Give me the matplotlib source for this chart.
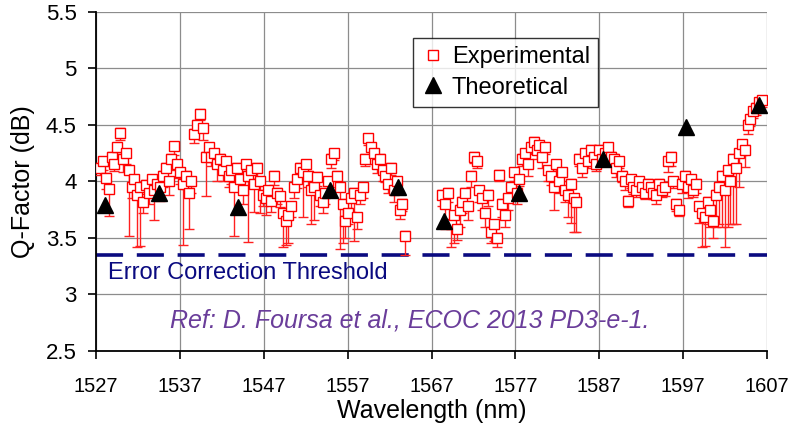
import numpy as np
import matplotlib
matplotlib.use("Agg")
import matplotlib.pyplot as plt
from matplotlib.lines import Line2D

plt.rcParams['font.family'] = ['Liberation Sans', 'DejaVu Sans']

# Channel grid of the two measured bands (nm)
band1_start, band2_start, channel_step = 1527.5, 1568.3, 0.34

# Measured Q-factor per channel (dB), band 1
q_band1 = [
    4.12, 4.18, 4.03, 3.93,
    4.22, 4.15, 4.30, 4.43, 4.20,
    4.25, 4.10, 3.95, 4.02, 3.88, 3.95, 3.82,
    3.97, 3.90, 4.02, 3.92, 3.98, 3.95,
    4.05, 4.12, 4.00, 4.20, 4.31, 4.15,
    4.08, 3.98, 4.05, 3.90, 4.00,
    4.42, 4.50, 4.60, 4.47, 4.22,
    4.30, 4.22, 4.25, 4.15, 4.20, 4.10, 4.18,
    4.05, 4.10, 3.95, 4.12, 4.02, 3.92,
    4.15, 4.05, 4.10, 3.98, 4.12, 4.00,
    3.88, 3.85, 3.92, 3.83, 4.05, 3.90, 3.87,
    3.72, 3.65, 3.70, 3.78,
    3.95, 4.02, 4.12, 4.08, 4.15, 4.05, 3.92,
    3.95, 4.04, 3.88, 3.82, 3.90, 4.00,
    4.20, 4.25, 4.05, 3.95, 3.80,
    3.65, 3.72, 3.85, 3.90, 3.68, 3.88, 3.95,
    4.20, 4.38, 4.30, 4.25, 4.15, 4.20, 4.10,
    4.05, 3.98, 4.12, 3.92, 4.00,
    3.75, 3.80,
    3.52,
]
# Lower error (dB), band 1
err_band1 = [
    0.06, 0.08, 0.10, 0.24,
    0.08, 0.06, 0.10, 0.06, 0.12,
    0.10, 0.58, 0.10, 0.08, 0.46, 0.52, 0.10,
    0.08, 0.10, 0.06, 0.26, 0.10, 0.12,
    0.10, 0.08, 0.12, 0.10, 0.08, 0.12,
    0.10, 0.54, 0.12, 0.32, 0.10,
    0.08, 0.06, 0.06, 0.10, 0.35,
    0.10, 0.08, 0.06, 0.15, 0.06, 0.10, 0.08,
    0.10, 0.12, 0.43, 0.08, 0.10, 0.12,
    0.10, 0.59, 0.10, 0.25, 0.10, 0.28,
    0.10, 0.15, 0.08, 0.10, 0.08, 0.10, 0.10,
    0.30, 0.21, 0.25, 0.10,
    0.10, 0.08, 0.10, 0.40, 0.08, 0.10, 0.30,
    0.29, 0.08, 0.10, 0.10, 0.10, 0.08,
    0.08, 0.06, 0.10, 0.55, 0.35,
    0.15, 0.10, 0.12, 0.43, 0.10, 0.08, 0.10,
    0.06, 0.06, 0.08, 0.10, 0.08, 0.06, 0.10,
    0.06, 0.08, 0.06, 0.10, 0.08,
    0.08, 0.06,
    0.17,
]

# Measured Q-factor per channel (dB), band 2
q_band2 = [
    3.88, 3.80, 3.90,
    3.62, 3.70, 3.58, 3.75,
    3.82, 3.90, 3.78, 4.05, 4.22,
    4.18, 3.92, 3.85, 3.72, 3.88,
    3.55, 3.62, 3.50,
    4.06, 3.80, 3.70, 3.85,
    3.95, 4.08, 3.90, 4.02,
    4.20, 4.25, 4.15, 4.30, 4.35, 4.28, 4.32, 4.22, 4.30,
    4.10, 4.05, 3.95, 4.15, 4.00, 4.08,
    3.92, 3.88, 3.98, 3.85, 3.82,
    4.20, 4.12, 4.25, 4.18, 4.28, 4.22, 4.15, 4.28, 4.20, 4.25, 4.30, 4.22, 4.20, 4.12, 4.18,
    4.05, 4.00, 3.83, 4.02, 3.95, 3.92, 4.00, 3.95, 3.90, 3.98,
    3.95, 3.90, 3.88, 3.98, 3.92, 3.95,
    4.18, 4.22, 4.00,
    3.80, 3.75, 3.98,
    4.05, 3.95, 4.02, 3.92, 3.98,
    3.78, 3.72, 3.68, 3.82, 3.75,
    3.65, 3.88, 3.95, 4.05, 3.92, 4.10, 4.00,
    4.20, 4.12, 4.25, 4.33, 4.28,
    4.50, 4.55, 4.62, 4.65, 4.70, 4.72,
]
# Lower error (dB), band 2
err_band2 = [
    0.10, 0.22, 0.08,
    0.20, 0.25, 0.10, 0.15,
    0.10, 0.15, 0.12, 0.10, 0.06,
    0.06, 0.10, 0.10, 0.12, 0.10,
    0.10, 0.15, 0.08,
    0.06, 0.12, 0.10, 0.10,
    0.10, 0.08, 0.10, 0.06,
    0.06, 0.08, 0.10, 0.06, 0.06, 0.08, 0.06, 0.10, 0.06,
    0.10, 0.08, 0.20, 0.06, 0.10, 0.08,
    0.10, 0.20, 0.35, 0.30, 0.27,
    0.06, 0.08, 0.06, 0.06, 0.08, 0.06, 0.06, 0.10, 0.06, 0.06, 0.06, 0.08, 0.06, 0.08, 0.06,
    0.06, 0.08, 0.06, 0.08, 0.06, 0.06, 0.08, 0.06, 0.06, 0.08,
    0.06, 0.06, 0.08, 0.06, 0.06, 0.08,
    0.10, 0.08, 0.06,
    0.06, 0.06, 0.08,
    0.08, 0.10, 0.06, 0.06, 0.08,
    0.15, 0.30, 0.25, 0.20, 0.15,
    0.15, 0.28, 0.33, 0.45, 0.50, 0.50, 0.38,
    0.58, 0.50, 0.30, 0.10, 0.15,
    0.08, 0.06, 0.06, 0.06, 0.06, 0.06,
]
err_upper = 0.04

# Theoretical prediction
theory_wl = [1528.1, 1534.5, 1543.9, 1554.9, 1563.0, 1568.5, 1577.4, 1587.4, 1597.3, 1606.0]
theory_q = [3.79, 3.90, 3.77, 3.92, 3.95, 3.65, 3.90, 4.20, 4.48, 4.68]

threshold_q = 3.35
x_ticks = [1527, 1537, 1547, 1557, 1567, 1577, 1587, 1597, 1607]
y_ticks = [2.5, 3, 3.5, 4, 4.5, 5, 5.5]
y_tick_labels = ['2.5', '3', '3.5', '4', '4.5', '5', '5.5']

wl1 = band1_start + channel_step * np.arange(len(q_band1))
wl2 = band2_start + channel_step * np.arange(len(q_band2))
wl = np.concatenate([wl1, wl2])
q = np.array(q_band1 + q_band2)
err_lo = np.array(err_band1 + err_band2)
err_hi = np.full_like(q, err_upper)

fig = plt.figure(figsize=(7.89, 4.28), dpi=100)
ax = fig.add_axes([96 / 789, 1 - 350.7 / 428, (767 - 96) / 789, (350.7 - 12) / 428])

ax.set_xlim(1527, 1607)
ax.set_ylim(2.5, 5.5)
ax.set_xticks(x_ticks)
ax.set_yticks(y_ticks)
ax.set_yticklabels(y_tick_labels)
ax.grid(True, color='#8c8c8c', linewidth=0.9)
ax.set_axisbelow(True)
for side in ('top', 'right'):
    ax.spines[side].set_visible(False)
for side in ('left', 'bottom'):
    ax.spines[side].set_linewidth(1.3)
ax.tick_params(axis='both', direction='out', length=6, width=1.2)
ax.tick_params(axis='x', pad=13, labelsize=14.5)
ax.tick_params(axis='y', pad=8, labelsize=16)

ax.axhline(threshold_q, color='#0a0a80', linewidth=2.6, dashes=(7.5, 3.8), zorder=2)

ax.errorbar(wl, q, yerr=[err_lo, err_hi], fmt='s', color='#ff0000',
            markerfacecolor='white', markeredgecolor='#ff0000', markersize=6.5,
            markeredgewidth=1.0, elinewidth=1.0, capsize=3.4, capthick=1.0,
            ecolor='#ff2020', zorder=3)
ax.plot(theory_wl, theory_q, linestyle='none', marker='^', color='black',
        markersize=11, zorder=4)

ax.text(1528.4, 3.19, 'Error Correction Threshold', color='#0a0a80',
        fontsize=17, va='center', ha='left')
ax.text(1564.4, 2.77, 'Ref: D. Foursa et al., ECOC 2013 PD3-e-1.',
        color='#6a3d9a', fontsize=18, style='italic', va='center', ha='center')

ax.set_xlabel('Wavelength (nm)', fontsize=18, labelpad=2)
ax.set_ylabel('Q-Factor (dB)', fontsize=18, labelpad=8)

handles = [
    Line2D([], [], linestyle='none', marker='s', markersize=7,
           markerfacecolor='white', markeredgecolor='#ff0000', markeredgewidth=1.0),
    Line2D([], [], linestyle='none', marker='^', markersize=11, color='black'),
]
leg = ax.legend(handles, ['Experimental', 'Theoretical'], loc='upper left',
                bbox_to_anchor=(413 / 789, 1 - 38 / 428),
                bbox_transform=fig.transFigure, fontsize=17,
                frameon=True, fancybox=False, edgecolor='black',
                borderpad=0.35, handletextpad=0.3, labelspacing=0.35,
                handlelength=1.0, borderaxespad=0)
leg.get_frame().set_linewidth(1.0)

fig.savefig('out.png', dpi=100)
